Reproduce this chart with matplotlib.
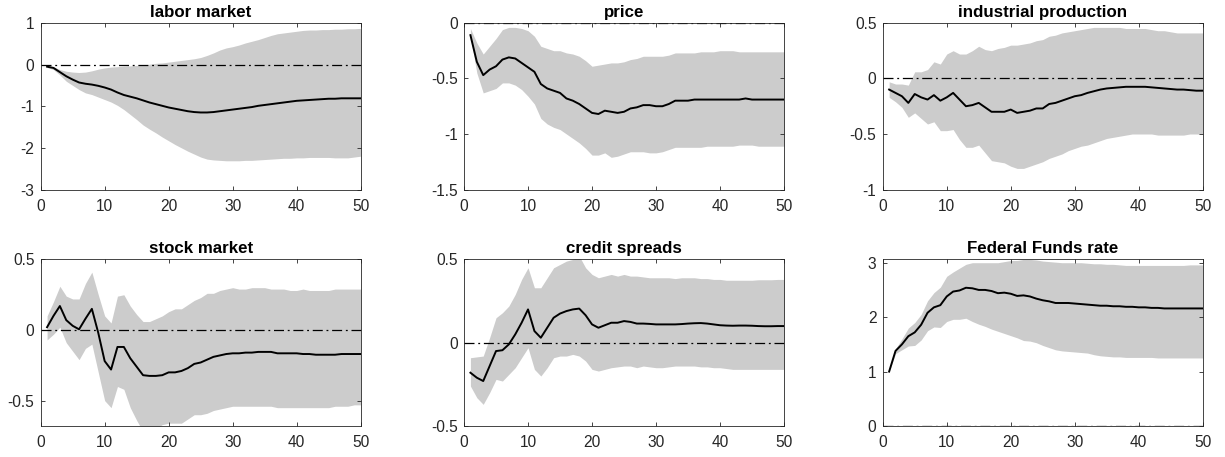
import matplotlib
matplotlib.use("Agg")
import matplotlib.pyplot as plt
import numpy as np

plt.rcParams["font.family"] = ["Liberation Sans", "DejaVu Sans"]

horizon = np.arange(1, 51)
BAND = "#cccccc"
AXC = "#262626"

titles = ["labor market", "price", "industrial production",
          "stock market", "credit spreads", "Federal Funds rate"]

labor_irf = [-0.05, -0.08, -0.18, -0.28, -0.36, -0.43, -0.46, -0.48, -0.51, -0.55,
             -0.60, -0.67, -0.73, -0.77, -0.81, -0.86, -0.91, -0.95, -0.99, -1.03,
             -1.06, -1.09, -1.12, -1.14, -1.15, -1.15, -1.14, -1.12, -1.10, -1.08,
             -1.06, -1.04, -1.02, -0.99, -0.97, -0.95, -0.93, -0.91, -0.89, -0.87,
             -0.86, -0.85, -0.84, -0.83, -0.82, -0.82, -0.81, -0.81, -0.81, -0.81]
labor_hi = [-0.03, -0.05, -0.12, -0.16, -0.18, -0.19, -0.18, -0.15, -0.11, -0.08,
            -0.06, -0.05, -0.04, -0.03, -0.02, -0.01, 0.01, 0.03, 0.04, 0.06,
            0.08, 0.10, 0.12, 0.14, 0.17, 0.22, 0.28, 0.35, 0.40, 0.43,
            0.47, 0.52, 0.56, 0.60, 0.65, 0.70, 0.74, 0.76, 0.78, 0.80,
            0.82, 0.83, 0.83, 0.84, 0.84, 0.85, 0.85, 0.86, 0.86, 0.87]
labor_lo = [-0.07, -0.12, -0.25, -0.40, -0.50, -0.60, -0.68, -0.72, -0.78, -0.84,
            -0.90, -0.98, -1.08, -1.20, -1.32, -1.45, -1.55, -1.64, -1.74, -1.83,
            -1.92, -2.00, -2.08, -2.15, -2.22, -2.27, -2.29, -2.30, -2.31, -2.31,
            -2.31, -2.30, -2.30, -2.29, -2.28, -2.27, -2.26, -2.25, -2.25, -2.24,
            -2.24, -2.23, -2.23, -2.23, -2.23, -2.24, -2.24, -2.24, -2.22, -2.20]

price_irf = [-0.11, -0.35, -0.47, -0.42, -0.39, -0.33, -0.31, -0.32, -0.36, -0.40,
             -0.44, -0.55, -0.59, -0.61, -0.63, -0.68, -0.70, -0.73, -0.77, -0.81,
             -0.82, -0.79, -0.80, -0.81, -0.80, -0.77, -0.76, -0.74, -0.74, -0.75,
             -0.75, -0.73, -0.70, -0.70, -0.70, -0.69, -0.69, -0.69, -0.69, -0.69,
             -0.69, -0.69, -0.69, -0.68, -0.69, -0.69, -0.69, -0.69, -0.69, -0.69]
price_hi = [-0.05, -0.18, -0.28, -0.21, -0.14, -0.06, -0.04, -0.04, -0.05, -0.07,
            -0.12, -0.21, -0.23, -0.25, -0.25, -0.27, -0.28, -0.30, -0.34, -0.39,
            -0.38, -0.37, -0.36, -0.36, -0.35, -0.33, -0.32, -0.30, -0.30, -0.30,
            -0.30, -0.29, -0.27, -0.27, -0.27, -0.27, -0.26, -0.26, -0.26, -0.25,
            -0.25, -0.25, -0.26, -0.26, -0.26, -0.26, -0.26, -0.26, -0.26, -0.26]
price_lo = [-0.12, -0.45, -0.63, -0.61, -0.59, -0.54, -0.54, -0.56, -0.60, -0.66,
            -0.73, -0.86, -0.91, -0.94, -0.96, -1.00, -1.04, -1.08, -1.13, -1.19,
            -1.19, -1.17, -1.21, -1.20, -1.18, -1.16, -1.16, -1.16, -1.17, -1.17,
            -1.16, -1.14, -1.12, -1.12, -1.12, -1.12, -1.12, -1.11, -1.11, -1.11,
            -1.11, -1.11, -1.10, -1.10, -1.10, -1.11, -1.11, -1.11, -1.11, -1.11]

ip_irf = [-0.10, -0.13, -0.16, -0.22, -0.14, -0.17, -0.19, -0.15, -0.20, -0.17,
          -0.13, -0.19, -0.25, -0.24, -0.22, -0.26, -0.30, -0.30, -0.30, -0.28,
          -0.31, -0.30, -0.29, -0.27, -0.27, -0.23, -0.22, -0.20, -0.18, -0.16,
          -0.15, -0.13, -0.115, -0.10, -0.09, -0.085, -0.08, -0.075, -0.075, -0.075,
          -0.075, -0.08, -0.085, -0.09, -0.095, -0.10, -0.10, -0.105, -0.11, -0.11]
ip_hi = [-0.03, -0.05, -0.05, -0.06, 0.06, 0.06, 0.08, 0.15, 0.13, 0.22,
         0.25, 0.22, 0.22, 0.25, 0.29, 0.26, 0.25, 0.27, 0.28, 0.30,
         0.30, 0.31, 0.32, 0.34, 0.35, 0.38, 0.39, 0.41, 0.42, 0.43,
         0.44, 0.45, 0.46, 0.46, 0.46, 0.46, 0.46, 0.45, 0.45, 0.45,
         0.45, 0.44, 0.43, 0.43, 0.42, 0.41, 0.41, 0.41, 0.41, 0.41]
ip_lo = [-0.17, -0.21, -0.26, -0.35, -0.31, -0.36, -0.41, -0.39, -0.47, -0.47,
         -0.46, -0.55, -0.62, -0.62, -0.60, -0.67, -0.74, -0.75, -0.76, -0.79,
         -0.81, -0.81, -0.79, -0.77, -0.75, -0.72, -0.70, -0.68, -0.65, -0.63,
         -0.61, -0.60, -0.58, -0.56, -0.54, -0.53, -0.52, -0.51, -0.50, -0.50,
         -0.50, -0.50, -0.51, -0.51, -0.51, -0.51, -0.51, -0.50, -0.50, -0.50]

stock_irf = [0.02, 0.10, 0.17, 0.07, 0.03, 0.005, 0.08, 0.15, -0.02, -0.22,
             -0.28, -0.12, -0.12, -0.20, -0.26, -0.32, -0.325, -0.325, -0.32, -0.30,
             -0.30, -0.29, -0.27, -0.24, -0.23, -0.21, -0.19, -0.18, -0.17, -0.165,
             -0.165, -0.16, -0.16, -0.155, -0.155, -0.155, -0.165, -0.165, -0.165, -0.165,
             -0.17, -0.17, -0.175, -0.175, -0.175, -0.175, -0.17, -0.17, -0.17, -0.17]
stock_hi = [0.10, 0.20, 0.31, 0.24, 0.22, 0.22, 0.33, 0.41, 0.25, 0.10,
            0.05, 0.24, 0.25, 0.17, 0.11, 0.06, 0.06, 0.08, 0.10, 0.13,
            0.15, 0.15, 0.18, 0.21, 0.23, 0.26, 0.26, 0.28, 0.29, 0.30,
            0.29, 0.29, 0.30, 0.30, 0.30, 0.29, 0.29, 0.29, 0.28, 0.28,
            0.29, 0.28, 0.28, 0.28, 0.28, 0.29, 0.29, 0.29, 0.29, 0.29]
stock_lo = [-0.07, -0.03, 0.02, -0.09, -0.15, -0.21, -0.13, -0.10, -0.30, -0.50,
            -0.55, -0.40, -0.42, -0.55, -0.64, -0.72, -0.72, -0.70, -0.67, -0.66,
            -0.66, -0.66, -0.63, -0.60, -0.60, -0.59, -0.57, -0.56, -0.55, -0.54,
            -0.54, -0.54, -0.54, -0.54, -0.54, -0.54, -0.55, -0.55, -0.55, -0.55,
            -0.55, -0.55, -0.55, -0.55, -0.55, -0.54, -0.54, -0.54, -0.53, -0.53]

credit_irf = [-0.18, -0.21, -0.23, -0.14, -0.05, -0.045, -0.01, 0.05, 0.12, 0.20,
              0.07, 0.03, 0.09, 0.15, 0.175, 0.19, 0.20, 0.205, 0.165, 0.11,
              0.09, 0.105, 0.12, 0.12, 0.13, 0.125, 0.115, 0.115, 0.113, 0.11,
              0.11, 0.11, 0.11, 0.112, 0.115, 0.117, 0.118, 0.115, 0.11, 0.105,
              0.103, 0.102, 0.103, 0.103, 0.102, 0.10, 0.099, 0.099, 0.10, 0.10]
credit_hi = [-0.09, -0.085, -0.08, 0.03, 0.15, 0.18, 0.22, 0.29, 0.38, 0.45,
             0.33, 0.33, 0.39, 0.45, 0.47, 0.49, 0.50, 0.52, 0.45, 0.41,
             0.39, 0.40, 0.41, 0.40, 0.41, 0.40, 0.40, 0.395, 0.39, 0.39,
             0.39, 0.39, 0.385, 0.39, 0.39, 0.39, 0.385, 0.385, 0.38, 0.38,
             0.375, 0.375, 0.375, 0.375, 0.375, 0.378, 0.378, 0.378, 0.38, 0.38]
credit_lo = [-0.26, -0.33, -0.37, -0.30, -0.22, -0.23, -0.19, -0.15, -0.09, -0.03,
             -0.16, -0.20, -0.15, -0.09, -0.08, -0.08, -0.07, -0.08, -0.11, -0.16,
             -0.17, -0.16, -0.15, -0.145, -0.14, -0.14, -0.15, -0.14, -0.145, -0.15,
             -0.15, -0.145, -0.14, -0.14, -0.14, -0.14, -0.145, -0.145, -0.15, -0.15,
             -0.155, -0.16, -0.16, -0.16, -0.16, -0.16, -0.16, -0.16, -0.16, -0.16]

ffr_irf = [1.00, 1.38, 1.50, 1.65, 1.72, 1.86, 2.08, 2.18, 2.22, 2.38,
           2.47, 2.49, 2.54, 2.53, 2.50, 2.50, 2.48, 2.44, 2.45, 2.43,
           2.39, 2.40, 2.38, 2.34, 2.31, 2.29, 2.26, 2.26, 2.26, 2.25,
           2.24, 2.23, 2.22, 2.21, 2.21, 2.20, 2.20, 2.19, 2.19, 2.18,
           2.18, 2.17, 2.17, 2.16, 2.16, 2.16, 2.16, 2.16, 2.16, 2.16]
ffr_hi = [1.00, 1.42, 1.60, 1.80, 1.90, 2.05, 2.30, 2.45, 2.55, 2.75,
          2.83, 2.90, 2.97, 3.00, 3.00, 3.00, 3.00, 3.00, 3.02, 3.04,
          3.04, 3.06, 3.06, 3.05, 3.03, 3.02, 3.01, 3.00, 3.00, 3.00,
          3.00, 2.99, 2.98, 2.98, 2.97, 2.97, 2.96, 2.95, 2.95, 2.95,
          2.95, 2.95, 2.95, 2.95, 2.95, 2.95, 2.95, 2.96, 2.96, 2.96]
ffr_lo = [1.00, 1.33, 1.40, 1.47, 1.48, 1.58, 1.75, 1.82, 1.81, 1.92,
          1.96, 1.96, 1.98, 1.92, 1.87, 1.83, 1.78, 1.74, 1.70, 1.66,
          1.62, 1.57, 1.56, 1.53, 1.48, 1.44, 1.40, 1.38, 1.37, 1.36,
          1.35, 1.34, 1.31, 1.29, 1.28, 1.27, 1.27, 1.26, 1.26, 1.26,
          1.26, 1.26, 1.25, 1.25, 1.25, 1.25, 1.25, 1.25, 1.25, 1.25]

irfs = [labor_irf, price_irf, ip_irf, stock_irf, credit_irf, ffr_irf]
his = [labor_hi, price_hi, ip_hi, stock_hi, credit_hi, ffr_hi]
los = [labor_lo, price_lo, ip_lo, stock_lo, credit_lo, ffr_lo]
ylims = [(-3, 1), (-1.5, 0), (-1, 0.5), (-0.68, 0.5), (-0.5, 0.5), (0, 3.06)]
yticks = [[-3, -2, -1, 0, 1], [-1.5, -1, -0.5, 0], [-1, -0.5, 0, 0.5],
          [-0.5, 0, 0.5], [-0.5, 0, 0.5], [0, 1, 2, 3]]

fig = plt.figure(figsize=(12.25, 4.57), dpi=100)
lefts = [0.0332, 0.3788, 0.7206]
bottoms = [0.5853, 0.0678]
W, H = 0.2612, 0.3645

for i in range(6):
    ax = fig.add_axes([lefts[i % 3], bottoms[i // 3], W, H])
    ax.fill_between(horizon, los[i], his[i], color=BAND, lw=0)
    ax.plot(horizon, irfs[i], color="black", lw=1.4)
    ax.axhline(0, color="black", lw=0.9, ls=(0, (8, 3, 1.5, 3)))
    ax.set_xlim(0, 50)
    ax.set_ylim(*ylims[i])
    ax.set_xticks([0, 10, 20, 30, 40, 50])
    ax.set_yticks(yticks[i])
    ax.set_yticklabels([f"{t:g}" for t in yticks[i]])
    ax.set_title(titles[i], fontsize=12.2, fontweight="bold", pad=4.5)
    ax.tick_params(direction="in", top=True, right=True, length=3, width=0.6,
                   labelsize=11.2, colors=AXC, labelcolor=AXC)
    ax.tick_params(axis="x", pad=6.5)
    ax.tick_params(axis="y", pad=4.5)
    for s in ax.spines.values():
        s.set_color(AXC)
        s.set_linewidth(0.6)

fig.savefig("out.png", dpi=100)
